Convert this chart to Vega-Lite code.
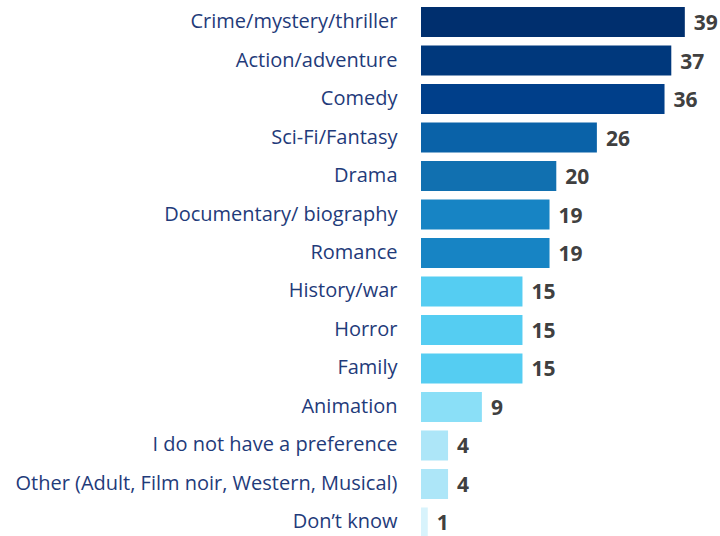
{
  "$schema": "https://vega.github.io/schema/vega-lite/v6.json",
  "autosize": "none",
  "padding": {"left": 421, "top": 7, "right": 0, "bottom": 0},
  "width": 299,
  "height": 529,
  "background": "white",
  "data": {"values": [
    {"genre": "Crime/mystery/thriller", "pct": 39},
    {"genre": "Action/adventure", "pct": 37},
    {"genre": "Comedy", "pct": 36},
    {"genre": "Sci-Fi/Fantasy", "pct": 26},
    {"genre": "Drama", "pct": 20},
    {"genre": "Documentary/ biography", "pct": 19},
    {"genre": "Romance", "pct": 19},
    {"genre": "History/war", "pct": 15},
    {"genre": "Horror", "pct": 15},
    {"genre": "Family", "pct": 15},
    {"genre": "Animation", "pct": 9},
    {"genre": "I do not have a preference", "pct": 4},
    {"genre": "Other (Adult, Film noir, Western, Musical)", "pct": 4},
    {"genre": "Don’t know", "pct": 1}
  ]},
  "encoding": {
    "y": {"field": "genre", "type": "nominal", "sort": null,
      "scale": {"paddingInner": 0.22, "paddingOuter": 0, "range": [0, 530.5]},
      "axis": {"title": null, "domain": false, "ticks": false, "labelPadding": 24,
        "labelFont": "Open Sans", "labelFontSize": 20, "labelColor": "#1f3b7a", "labelLimit": 420}},
    "x": {"field": "pct", "type": "quantitative", "scale": {"domain": [0, 44.2], "nice": false},
      "axis": null}
  },
  "layer": [
    {"mark": {"type": "bar"},
     "encoding": {"color": {"field": "genre", "type": "nominal", "legend": null,
       "scale": {"domain": ["Crime/mystery/thriller","Action/adventure","Comedy","Sci-Fi/Fantasy","Drama","Documentary/ biography","Romance","History/war","Horror","Family","Animation","I do not have a preference","Other (Adult, Film noir, Western, Musical)","Don’t know"],
         "range": ["#002f6e","#00387c","#003f8a","#0a62a8","#1170b0","#1784c4","#1784c4","#55cdf2","#55cdf2","#55cdf2","#8adff7","#ade6f8","#ade6f8","#d8f3fc"]}}}},
    {"mark": {"type": "text", "align": "left", "baseline": "middle", "dx": 9, "dy": 2,
      "font": "Open Sans", "fontSize": 21, "fontWeight": "bold", "color": "#404040"},
     "encoding": {"text": {"field": "pct", "type": "quantitative"}}}
  ],
  "config": {"view": {"stroke": null}}
}
